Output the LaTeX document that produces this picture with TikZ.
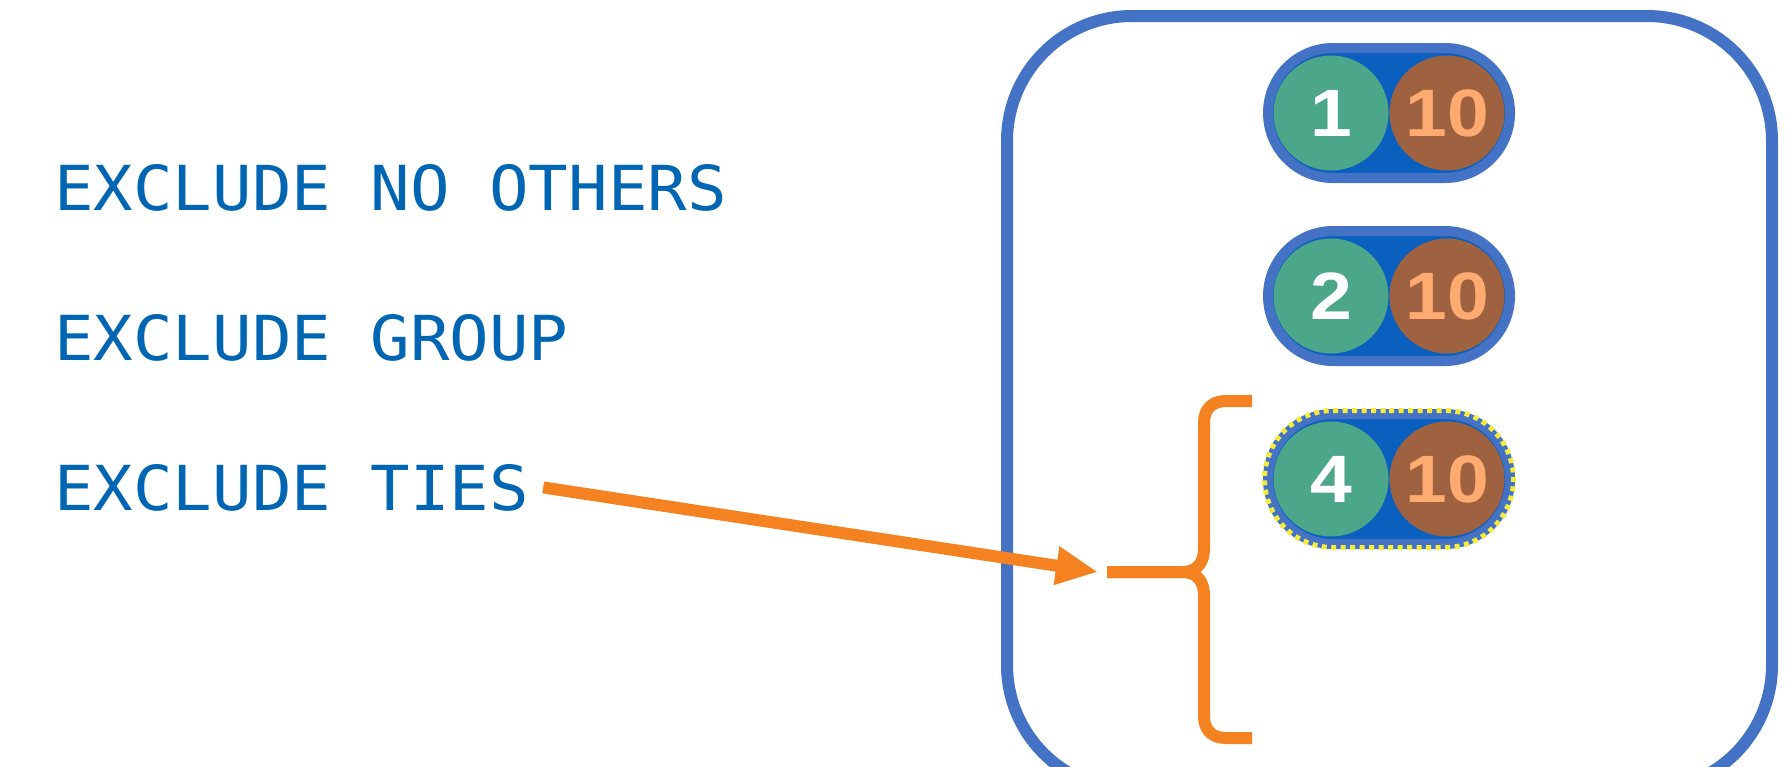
\documentclass[tikz,border=0pt]{standalone}
\usepackage{fontspec}
\usetikzlibrary{arrows.meta,shapes.misc}
\newfontfamily\monofont[FakeStretch=1.06]{DejaVu Sans Mono}
\newfontfamily\digitfont[FakeStretch=1.12]{Liberation Sans}
\definecolor{txtblue}{HTML}{0066B3}
\definecolor{boxblue}{HTML}{4472C4}
\definecolor{innerblue}{HTML}{0B5FBF}
\definecolor{tgreen}{HTML}{4CA689}
\definecolor{tbrown}{HTML}{9E6240}
\definecolor{digorange}{HTML}{FFAA70}
\definecolor{arrorange}{HTML}{F58220}
\definecolor{dotyellow}{HTML}{F5EB3C}
\tikzset{
  label text/.style={anchor=base west, inner sep=0pt, text=txtblue,
    font=\monofont\fontsize{62}{70}\selectfont},
  pill/.style={rounded rectangle, inner sep=0pt, minimum width=242pt,
    minimum height=130pt, draw=boxblue, fill=innerblue, line width=10pt},
  ball/.style={circle, inner sep=0pt, minimum size=115pt,
    font=\digitfont\bfseries\fontsize{67}{67}\selectfont},
  idball/.style={ball, fill=tgreen, text=white},
  valball/.style={ball, fill=tbrown, text=digorange},
  tiedots/.style={rounded rectangle, inner sep=0pt, minimum width=249pt,
    minimum height=137pt, draw=dotyellow, line width=5pt, dash pattern=on 5pt off 4.5pt},
  orangeline/.style={draw=arrorange, line width=12pt}
}
\begin{document}
\begin{tikzpicture}[x=1pt,y=-1pt]
\useasboundingbox (0,0) rectangle (1787,766);
\clip (0,0) rectangle (1787,766);
\fill[white] (0,0) rectangle (1787,766);

% left labels
\node[label text] (others) at (54,210) {EXCLUDE NO OTHERS};
\node[label text] (group) at (54,360) {EXCLUDE GROUP};
\node[label text] (ties) at (54,510) {EXCLUDE TIES};

% big rounded box
\draw[boxblue, line width=12pt, rounded corners=125pt] (1007,16) rectangle (1772,790);

% pills
\node[pill] (pill1) at (1389,113) {};
\node[idball] (id1) at (1331,113) {1};
\node[valball] (v1) at (1447,113) {10};

\node[pill] (pill2) at (1389,296) {};
\node[idball] (id2) at (1331,296) {2};
\node[valball] (v2) at (1447,296) {10};

\node[pill] (pill3) at (1389,479) {};
\node[tiedots] (dots3) at (1389,479) {};
\node[idball] (id3) at (1331,479) {4};
\node[valball] (v3) at (1447,479) {10};

% brace
\coordinate (btop) at (1252,401);
\coordinate (bbot) at (1252,738);
\coordinate (bstem) at (1107,572);
\draw[orangeline, line join=round] (btop) -- (1226,401) .. controls (1212,401) and (1204,409) .. (1204,423)
  -- (1204,548) .. controls (1204,562) and (1198,572) .. (1182,572) -- (bstem);
\draw[orangeline, line join=round] (bstem) -- (1182,572) .. controls (1198,572) and (1204,582) .. (1204,596)
  -- (1204,716) .. controls (1204,730) and (1212,738) .. (1226,738) -- (bbot);

% arrow
\coordinate (astart) at ([xshift=14pt]ties.east);
\coordinate (atip) at (1098,572);
\draw[orangeline, -{Triangle[length=42pt,width=36pt]}] (astart) -- (atip);
\end{tikzpicture}
\end{document}
